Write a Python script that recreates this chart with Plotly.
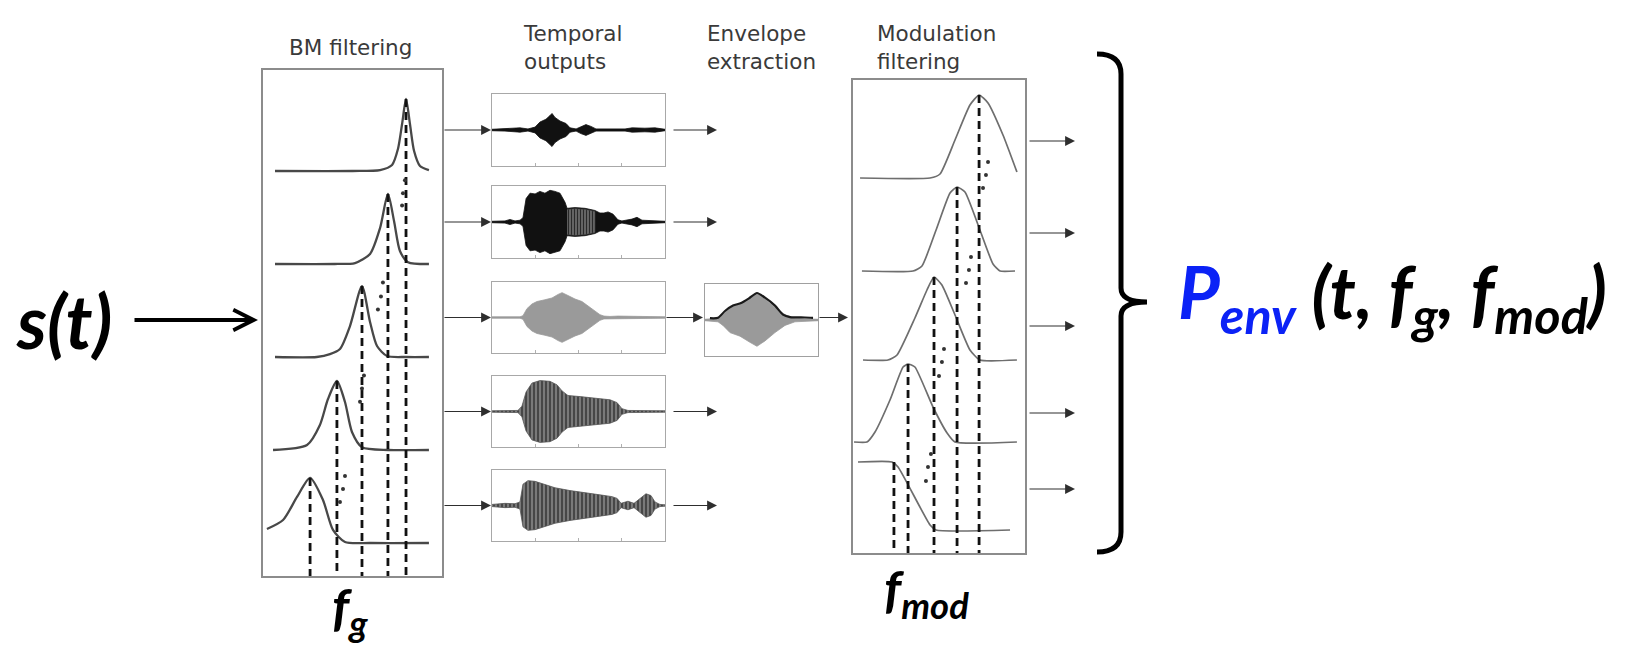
import plotly.graph_objects as go

# ---------------------------------------------------------------- data
# Basilar-membrane filterbank: normalised frequency vs. gain, rows from lowest CF (bottom) to highest (top)
bm_freq = [
    [0.022, 0.112, 0.190, 0.263, 0.335, 0.391, 0.458, 0.600, 0.927],
    [0.056, 0.246, 0.318, 0.363, 0.413, 0.458, 0.497, 0.553, 0.700, 0.927],
    [0.067, 0.300, 0.374, 0.430, 0.486, 0.553, 0.598, 0.637, 0.693, 0.800, 0.927],
    [0.067, 0.400, 0.514, 0.598, 0.654, 0.698, 0.732, 0.765, 0.810, 0.927],
    [0.067, 0.500, 0.654, 0.721, 0.754, 0.777, 0.799, 0.821, 0.844, 0.877, 0.927],
]
bm_gain = [
    [0.15, 0.247, 0.495, 0.70, 0.462, 0.14, 0.01, 0.0, 0.0],
    [0.0, 0.054, 0.269, 0.548, 0.742, 0.516, 0.194, 0.03, 0.0, 0.0],
    [0.0, 0.0, 0.03, 0.086, 0.333, 0.763, 0.376, 0.118, 0.01, 0.0, 0.0],
    [0.0, 0.0, 0.01, 0.108, 0.387, 0.753, 0.462, 0.14, 0.02, 0.0],
    [0.0, 0.0, 0.01, 0.065, 0.237, 0.505, 0.774, 0.505, 0.215, 0.054, 0.01],
]
bm_cf = [0.263, 0.413, 0.553, 0.698, 0.799]
bm_peak = [0.70, 0.742, 0.763, 0.753, 0.774]
bm_dots_f = [0.430, 0.447, 0.458, 0.542, 0.553, 0.564, 0.642, 0.659, 0.670, 0.777, 0.782, 0.793]
bm_dots_y = [0.44, 0.58, 0.72, 1.52, 1.66, 1.80, 2.51, 2.65, 2.80, 3.63, 3.76, 3.90]

# Temporal outputs: envelope (time, amplitude) of each channel, top channel first
temp_t = [
    [0, 0.075, 0.162, 0.208, 0.249, 0.277, 0.312, 0.335, 0.347, 0.364, 0.393, 0.428, 0.451,
     0.486, 0.514, 0.543, 0.572, 0.601, 0.769, 0.81, 0.884, 0.942, 1.0],
    [0, 0.075, 0.104, 0.133, 0.162, 0.179, 0.197, 0.220, 0.249, 0.277, 0.306, 0.335, 0.364,
     0.393, 0.422, 0.434, 0.480, 0.538, 0.595, 0.624, 0.647, 0.671, 0.699, 0.728, 0.751,
     0.809, 0.838, 0.867, 1.0],
    [0, 0.162, 0.179, 0.202, 0.231, 0.260, 0.306, 0.347, 0.382, 0.405, 0.439, 0.480, 0.520,
     0.555, 0.595, 0.624, 0.647, 0.682, 0.728, 0.769, 0.809, 0.855, 1.0],
    [0, 0.150, 0.173, 0.197, 0.231, 0.277, 0.335, 0.376, 0.405, 0.439, 0.509, 0.595, 0.682,
     0.723, 0.751, 0.786, 0.855, 1.0],
    [0, 0.075, 0.133, 0.162, 0.179, 0.208, 0.249, 0.306, 0.364, 0.451, 0.538, 0.624, 0.694,
     0.723, 0.746, 0.786, 0.821, 0.855, 0.890, 0.919, 0.942, 0.971, 1.0],
]
temp_amp = [
    [0.02, 0.03, 0.06, 0.03, 0.08, 0.22, 0.30, 0.40, 0.46, 0.35, 0.25, 0.18, 0.06,
     0.03, 0.10, 0.15, 0.10, 0.03, 0.03, 0.06, 0.05, 0.06, 0.02],
    [0.02, 0.03, 0.07, 0.03, 0.05, 0.12, 0.65, 0.80, 0.78, 0.85, 0.80, 0.88, 0.85,
     0.80, 0.55, 0.38, 0.40, 0.38, 0.32, 0.25, 0.25, 0.28, 0.22, 0.06, 0.03,
     0.08, 0.13, 0.05, 0.02],
    [0.02, 0.02, 0.05, 0.25, 0.38, 0.45, 0.50, 0.55, 0.65, 0.70, 0.62, 0.52, 0.45,
     0.32, 0.18, 0.08, 0.04, 0.03, 0.04, 0.04, 0.03, 0.02, 0.02],
    [0.02, 0.03, 0.15, 0.55, 0.80, 0.87, 0.85, 0.75, 0.58, 0.45, 0.42, 0.38, 0.33,
     0.25, 0.08, 0.03, 0.03, 0.02],
    [0.03, 0.06, 0.05, 0.10, 0.60, 0.70, 0.68, 0.60, 0.50, 0.42, 0.35, 0.30, 0.25,
     0.20, 0.06, 0.12, 0.06, 0.20, 0.33, 0.28, 0.10, 0.03, 0.02],
]
# part of the second channel that is a finer, lighter oscillation
temp_light_span = [0.43, 0.62]

# Envelope extraction on the middle channel
env_fill_t = [0, 0.062, 0.115, 0.159, 0.221, 0.310, 0.398, 0.460, 0.531, 0.619, 0.708, 0.796, 0.885, 1.0]
env_fill_amp = [0.02, 0.03, 0.05, 0.15, 0.35, 0.45, 0.62, 0.73, 0.58, 0.35, 0.15, 0.05, 0.03, 0.02]
env_line_t = [0.044, 0.115, 0.177, 0.248, 0.319, 0.389, 0.460, 0.531, 0.619, 0.690, 0.752, 0.885, 0.956]
env_line_amp = [0.05, 0.06, 0.25, 0.40, 0.47, 0.60, 0.75, 0.62, 0.40, 0.15, 0.08, 0.07, 0.06]

# Modulation filterbank: low-pass (bottom) then band-pass filters of increasing centre frequency
mod_freq = [
    [0.029, 0.227, 0.262, 0.448, 0.483, 0.913],
    [0.006, 0.081, 0.128, 0.215, 0.291, 0.320, 0.360, 0.465, 0.547, 0.593, 0.953],
    [0.058, 0.203, 0.256, 0.360, 0.430, 0.471, 0.517, 0.593, 0.680, 0.738, 0.953],
    [0.052, 0.349, 0.401, 0.483, 0.564, 0.605, 0.651, 0.738, 0.814, 0.855, 0.942],
    [0.041, 0.448, 0.506, 0.593, 0.680, 0.733, 0.785, 0.872, 0.953],
]
mod_gain = [
    [0.68, 0.68, 0.63, 0.05, 0.0, 0.0],
    [0.0, 0.0, 0.10, 0.42, 0.75, 0.78, 0.75, 0.35, 0.09, 0.0, 0.0],
    [0.0, 0.0, 0.05, 0.42, 0.70, 0.83, 0.75, 0.45, 0.10, 0.0, 0.0],
    [0.0, 0.0, 0.05, 0.41, 0.78, 0.84, 0.79, 0.41, 0.07, 0.0, 0.0],
    [0.0, 0.0, 0.04, 0.38, 0.73, 0.83, 0.75, 0.43, 0.06],
]
mod_fc = [0.238, 0.320, 0.471, 0.605, 0.733]
mod_peak = [0.68, 0.78, 0.83, 0.84, 0.83]
mod_dots_f = [0.424, 0.436, 0.453, 0.500, 0.517, 0.529, 0.657, 0.674, 0.686, 0.756, 0.773, 0.785]
mod_dots_y = [0.72, 0.86, 0.99, 1.77, 1.91, 2.04, 2.70, 2.83, 2.96, 3.65, 3.78, 3.91]

stage_titles = ["BM filtering", "Temporal<br>outputs", "Envelope<br>extraction", "Modulation<br>filtering"]

# ---------------------------------------------------------------- layout constants (pixels)
W, H = 1634, 650
BM_BOX = (263, 442, 70, 576)          # left, right, top, bottom
BM_YRANGE = [-0.355, 5.086]
TEMP_X = (492, 665)
TEMP_Y = [(94, 166), (186, 258), (282, 353), (376, 447), (470, 541)]
ENV_BOX = (705, 818, 284, 356)
MOD_BOX = (853, 1025, 80, 553)
MOD_YRANGE = [0, 4.73]
MOD_ROW_BASE = [0.23, 1.11, 1.93, 2.82, 3.75]

GREY_FRAME = "#8c8c8c"
CURVE = "#484848"
DASH = "#111111"
TITLE_FONT = dict(family="DejaVu Sans", size=21.5, color="#3a3a3a")
MATH_FONT = "Lato"


def dom_x(a, b):
    return [a / W, b / W]


def dom_y(top, bottom):
    return [1 - bottom / H, 1 - top / H]


fig = go.Figure()
axes = {}
axes["xaxis"] = dict(domain=[0, 1], range=[0, W], visible=False, fixedrange=True)
axes["yaxis"] = dict(domain=[0, 1], range=[H, 0], visible=False, fixedrange=True)


def framed(dom, rng, anchor, color, width, **extra):
    d = dict(domain=dom, range=rng, anchor=anchor, showline=True, mirror=True,
             linecolor=color, linewidth=width, showgrid=False, zeroline=False,
             showticklabels=False, ticks="", fixedrange=True)
    d.update(extra)
    return d


# --- BM filtering panel
axes["xaxis2"] = framed(dom_x(BM_BOX[0], BM_BOX[1]), [0, 1], "y2", GREY_FRAME, 1.6)
axes["yaxis2"] = framed(dom_y(BM_BOX[2], BM_BOX[3]), BM_YRANGE, "x2", GREY_FRAME, 1.6)
for row, (f, g) in enumerate(zip(bm_freq, bm_gain)):
    fig.add_trace(go.Scatter(x=f, y=[row + v for v in g], mode="lines",
                             line=dict(color=CURVE, width=2.3, shape="spline", smoothing=0.7),
                             xaxis="x2", yaxis="y2", hoverinfo="skip"))
for row, (cf, pk) in enumerate(zip(bm_cf, bm_peak)):
    fig.add_trace(go.Scatter(x=[cf, cf], y=[row + pk, BM_YRANGE[0]], mode="lines",
                             line=dict(color=DASH, width=2.8, dash="8px,5px"),
                             xaxis="x2", yaxis="y2", hoverinfo="skip"))
fig.add_trace(go.Scatter(x=bm_dots_f, y=bm_dots_y, mode="markers",
                         marker=dict(color="#333333", size=4), xaxis="x2", yaxis="y2",
                         hoverinfo="skip"))

# --- Temporal outputs
for i, (t, a) in enumerate(zip(temp_t, temp_amp)):
    n = 3 + i
    axes[f"xaxis{n}"] = framed(dom_x(*TEMP_X), [0, 1], f"y{n}", "#a8a8a8", 1.2,
                               ticks="inside", ticklen=3, tickcolor="#b0b0b0",
                               tickvals=[0.25, 0.5, 0.75])
    axes[f"yaxis{n}"] = framed(dom_y(*TEMP_Y[i]), [-1, 1], f"x{n}", "#a8a8a8", 1.2)
    xs = list(t) + list(t)[::-1]
    ys = list(a) + [-v for v in a][::-1]
    fig.add_trace(go.Scatter(x=[0, 1], y=[0, 0], mode="lines",
                             line=dict(color="#555555", width=1.2),
                             xaxis=f"x{n}", yaxis=f"y{n}", hoverinfo="skip"))
    if i in (3, 4):
        fig.add_trace(go.Scatter(x=xs, y=ys, mode="lines", fill="toself",
                                 line=dict(color="#555555", width=0.8),
                                 fillpattern=dict(shape="|", size=4, solidity=0.4,
                                                  fgcolor="#3a3a3a", bgcolor="#7a7a7a",
                                                  fillmode="replace"),
                                 xaxis=f"x{n}", yaxis=f"y{n}", hoverinfo="skip"))
    else:
        col = "#9a9a9a" if i == 2 else "#111111"
        fig.add_trace(go.Scatter(x=xs, y=ys, mode="lines", fill="toself", fillcolor=col,
                                 line=dict(color=col, width=0.8),
                                 xaxis=f"x{n}", yaxis=f"y{n}", hoverinfo="skip"))
    if i == 1:
        lo, hi = temp_light_span
        sel = [(tt, aa * 0.92) for tt, aa in zip(t, a) if lo <= tt <= hi]
        lt = [s[0] for s in sel]
        la = [s[1] for s in sel]
        fig.add_trace(go.Scatter(x=lt + lt[::-1], y=la + [-v for v in la][::-1],
                                 mode="lines", fill="toself",
                                 line=dict(color="#555555", width=0.5),
                                 fillpattern=dict(shape="|", size=3, solidity=0.4,
                                                  fgcolor="#2a2a2a", bgcolor="#6a6a6a",
                                                  fillmode="replace"),
                                 xaxis=f"x{n}", yaxis=f"y{n}", hoverinfo="skip"))

# --- Envelope extraction
axes["xaxis8"] = framed(dom_x(ENV_BOX[0], ENV_BOX[1]), [0, 1], "y8", "#a0a0a0", 1.2)
axes["yaxis8"] = framed(dom_y(ENV_BOX[2], ENV_BOX[3]), [-1, 1], "x8", "#a0a0a0", 1.2)
fig.add_trace(go.Scatter(x=[0, 1], y=[0, 0], mode="lines", line=dict(color="#555555", width=1.2),
                         xaxis="x8", yaxis="y8", hoverinfo="skip"))
fig.add_trace(go.Scatter(x=env_fill_t + env_fill_t[::-1],
                         y=env_fill_amp + [-v for v in env_fill_amp][::-1],
                         mode="lines", fill="toself", fillcolor="#9a9a9a",
                         line=dict(color="#9a9a9a", width=0.8),
                         xaxis="x8", yaxis="y8", hoverinfo="skip"))
fig.add_trace(go.Scatter(x=env_line_t, y=env_line_amp, mode="lines",
                         line=dict(color="#1a1a1a", width=2.2, shape="spline", smoothing=0.6),
                         xaxis="x8", yaxis="y8", hoverinfo="skip"))

# --- Modulation filtering panel
axes["xaxis9"] = framed(dom_x(MOD_BOX[0], MOD_BOX[1]), [0, 1], "y9", GREY_FRAME, 1.6)
axes["yaxis9"] = framed(dom_y(MOD_BOX[2], MOD_BOX[3]), MOD_YRANGE, "x9", GREY_FRAME, 1.6)
for row, (f, g) in enumerate(zip(mod_freq, mod_gain)):
    base = MOD_ROW_BASE[row]
    fig.add_trace(go.Scatter(x=f, y=[base + v for v in g], mode="lines",
                             line=dict(color="#6e6e6e", width=1.7, shape="spline", smoothing=0.5),
                             xaxis="x9", yaxis="y9", hoverinfo="skip"))
for row, (fc, pk) in enumerate(zip(mod_fc, mod_peak)):
    fig.add_trace(go.Scatter(x=[fc, fc], y=[MOD_ROW_BASE[row] + pk, MOD_YRANGE[0]], mode="lines",
                             line=dict(color=DASH, width=2.8, dash="8px,5px"),
                             xaxis="x9", yaxis="y9", hoverinfo="skip"))
fig.add_trace(go.Scatter(x=mod_dots_f, y=mod_dots_y, mode="markers",
                         marker=dict(color="#333333", size=4), xaxis="x9", yaxis="y9",
                         hoverinfo="skip"))

# ---------------------------------------------------------------- connectors and labels
ann = []


def arrow(x0, x1, y, color="#2e2e2e", width=1.1, head=2, size=1.8):
    ann.append(dict(x=x1, y=y, ax=x0, ay=y, xref="x", yref="y", axref="x", ayref="y",
                    showarrow=True, arrowhead=head, arrowsize=size, arrowwidth=width,
                    arrowcolor=color, text=""))


temp_rows = [(a + b) / 2 for a, b in TEMP_Y]
for yc in temp_rows:
    arrow(BM_BOX[1] + 1, TEMP_X[0] - 1, yc)
for i, yc in enumerate(temp_rows):
    if i == 2:
        arrow(TEMP_X[1], ENV_BOX[0] - 2, yc)
        arrow(ENV_BOX[1], MOD_BOX[0] - 5, yc)
    else:
        arrow(TEMP_X[1] + 7, TEMP_X[1] + 52, yc)
for yc in [141, 233, 326, 413, 489]:
    arrow(MOD_BOX[1] + 3, MOD_BOX[1] + 50, yc)
arrow(133, 258, 320, color="#000000", width=3.8, head=5, size=1.05)

ann.append(dict(x=350, y=47, xref="x", yref="y", text=stage_titles[0], showarrow=False,
                xanchor="center", yanchor="middle", font=TITLE_FONT))
for txt, x0 in zip(stage_titles[1:], [521, 705, 875]):
    ann.append(dict(x=x0, y=47, xref="x", yref="y", text=txt, showarrow=False, align="left",
                    xanchor="left", yanchor="middle", font=TITLE_FONT))

ann.append(dict(x=14, y=320, xref="x", yref="y", text="<b><i>s(t)</i></b>", showarrow=False,
                xanchor="left", yanchor="middle", font=dict(family=MATH_FONT, size=74, color="#000000")))
ann.append(dict(x=350, y=610, xref="x", yref="y", text="<b><i>f<sub>g</sub></i></b>", showarrow=False,
                xanchor="center", yanchor="middle", font=dict(family=MATH_FONT, size=52, color="#000000")))
ann.append(dict(x=926, y=592, xref="x", yref="y", text="<b><i>f<sub>mod</sub></i></b>", showarrow=False,
                xanchor="center", yanchor="middle", font=dict(family=MATH_FONT, size=52, color="#000000")))
ann.append(dict(x=1176, y=296, xref="x", yref="y",
                text='<b><i><span style="color:#0b22f6">P<sub>env</sub></span> (t, f<sub>g</sub>, f<sub>mod</sub>)</i></b>',
                showarrow=False, xanchor="left", yanchor="middle",
                font=dict(family=MATH_FONT, size=72, color="#000000")))

# curly bracket gathering the modulation-filter outputs
brace = dict(type="path", xref="x", yref="y", layer="above",
             path="M 1097 54 Q 1121 54 1121 74 L 1121 288 Q 1121 302 1147 302 "
                  "Q 1121 302 1121 316 L 1121 532 Q 1121 552 1097 552",
             line=dict(color="#000000", width=5))

fig.update_layout(
    width=W, height=H, margin=dict(l=0, r=0, t=0, b=0),
    paper_bgcolor="#ffffff", plot_bgcolor="rgba(0,0,0,0)",
    showlegend=False, annotations=ann, shapes=[brace], **axes,
)

fig.write_html("out.html")
